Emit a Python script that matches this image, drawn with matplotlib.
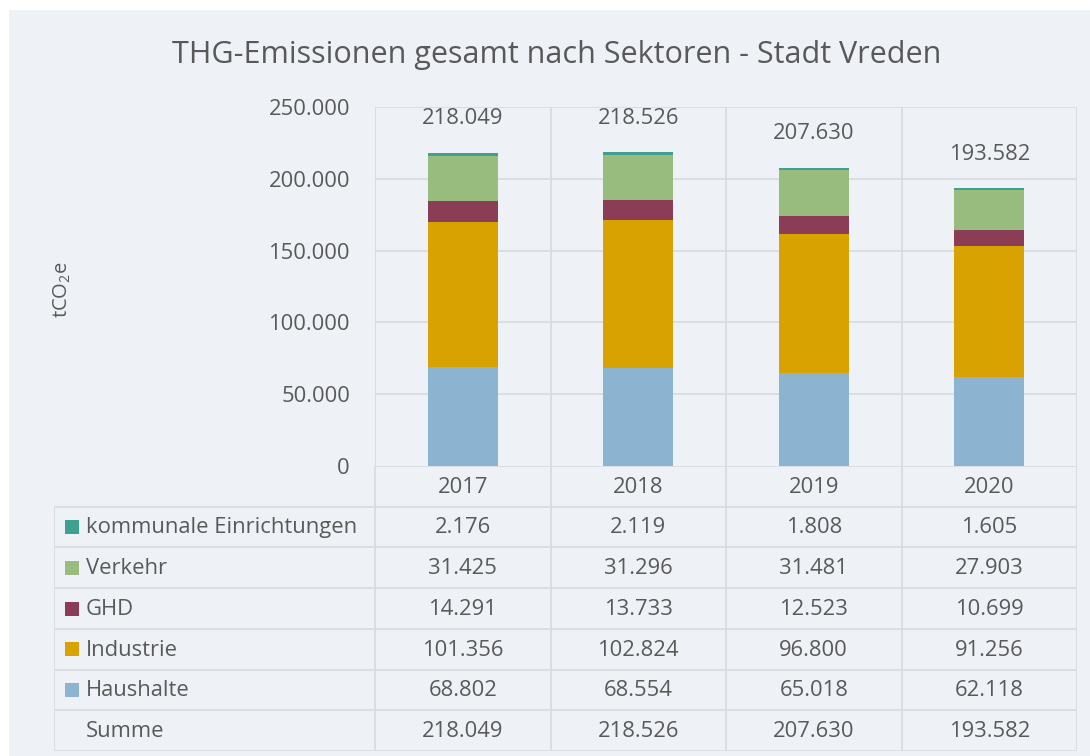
import numpy as np
import matplotlib.pyplot as plt
from matplotlib.patches import Rectangle

plt.rcParams['font.family'] = ['Open Sans', 'DejaVu Sans']
plt.rcParams['mathtext.fontset'] = 'custom'
plt.rcParams['mathtext.rm'] = 'Open Sans'
plt.rcParams['mathtext.it'] = 'Open Sans:italic'

years = ['2017', '2018', '2019', '2020']
sectors = ['Haushalte', 'Industrie', 'GHD', 'Verkehr', 'kommunale Einrichtungen']
haushalte = [68802, 68554, 65018, 62118]
industrie = [101356, 102824, 96800, 91256]
ghd = [14291, 13733, 12523, 10699]
verkehr = [31425, 31296, 31481, 27903]
kommunal = [2176, 2119, 1808, 1605]
summe = [218049, 218526, 207630, 193582]

colors = ['#8cb4d0', '#d8a200', '#8a3d55', '#98bb7e', '#40a090']
txt = '#595959'
gridc = '#dadcde'
W, H = 1090, 756
fs = 15.8

def fmt(v):
    return f'{v:,}'.replace(',', '.')

fig = plt.figure(figsize=(W / 100, H / 100), dpi=100, facecolor='white')
fig.patches.append(Rectangle((9 / W, 0), 1 - 9 / W, 1 - 10 / H, transform=fig.transFigure,
                             facecolor='#eef2f6', edgecolor='none', zorder=-10))

fig.text(557 / W, 1 - 55 / H, 'THG-Emissionen gesamt nach Sektoren - Stadt Vreden',
         ha='center', va='center', fontsize=22, color=txt)

# main chart
ax = fig.add_axes([375 / W, 1 - 466 / H, 702 / W, 359 / H])
ax.set_facecolor('none')
x = np.arange(len(years))
series = [haushalte, industrie, ghd, verkehr, kommunal]
bottom = np.zeros(len(years))
for vals, c in zip(series, colors):
    ax.bar(x, vals, 0.4, bottom=bottom, color=c, zorder=3)
    bottom += np.array(vals)
for xi, s in zip(x, summe):
    ax.annotate(fmt(s), (xi, s), xytext=(0, 34), textcoords='offset pixels',
                ha='center', va='center', fontsize=fs, color=txt)
ax.set_xlim(-0.5, 3.5)
ax.set_ylim(0, 250000)
yt = np.arange(0, 250001, 50000)
ax.set_yticks(yt)
ax.set_yticklabels([fmt(v) for v in yt], fontsize=fs, color=txt)
ax.tick_params(axis='y', length=0, pad=18)
ax.set_xticks([])
for s in ax.spines.values():
    s.set_visible(False)
for v in yt[1:]:
    ax.axhline(v, color=gridc, lw=1.3, zorder=1)
for v in np.arange(-0.5, 3.6, 1):
    ax.axvline(v, color=gridc, lw=1.3, zorder=1)
fig.text(62 / W, 1 - 290 / H, 'tCO$_2$e', rotation=90, ha='center', va='center',
         fontsize=14.5, color=txt)

# data table below
lab_w = 321 / 175.5
tx = fig.add_axes([54 / W, 1 - 751 / H, 1023 / W, 285 / H])
tx.set_facecolor('none')
tx.set_xlim(-0.5 - lab_w, 3.5)
tx.set_ylim(7, 0)
tx.axis('off')
left = -0.5 - lab_w
tx.hlines(0, -0.5, 3.5, color=gridc, lw=1.3)
tx.hlines(np.arange(1, 8), left, 3.5, color=gridc, lw=1.3)
tx.vlines(left, 1, 7, color=gridc, lw=1.3)
tx.vlines(np.arange(-0.5, 3.6, 1), 0, 7, color=gridc, lw=1.3)
for xi, yr in zip(x, years):
    tx.text(xi, 0.52, yr, ha='center', va='center', fontsize=fs, color=txt)
rows = list(zip(sectors, series, colors))[::-1]
for r, (name, vals, c) in enumerate(rows, start=1):
    tx.scatter([left + 0.1], [r + 0.5], marker='s', s=100, color=c, linewidths=0)
    tx.text(left + 0.18, r + 0.52, name, ha='left', va='center', fontsize=fs, color=txt)
    for xi, v in zip(x, vals):
        tx.text(xi, r + 0.52, fmt(v), ha='center', va='center', fontsize=fs, color=txt)
tx.text(left + 0.18, 6.52, 'Summe', ha='left', va='center', fontsize=fs, color=txt)
for xi, v in zip(x, summe):
    tx.text(xi, 6.52, fmt(v), ha='center', va='center', fontsize=fs, color=txt)

fig.savefig('out.png', dpi=100, facecolor=fig.get_facecolor())
